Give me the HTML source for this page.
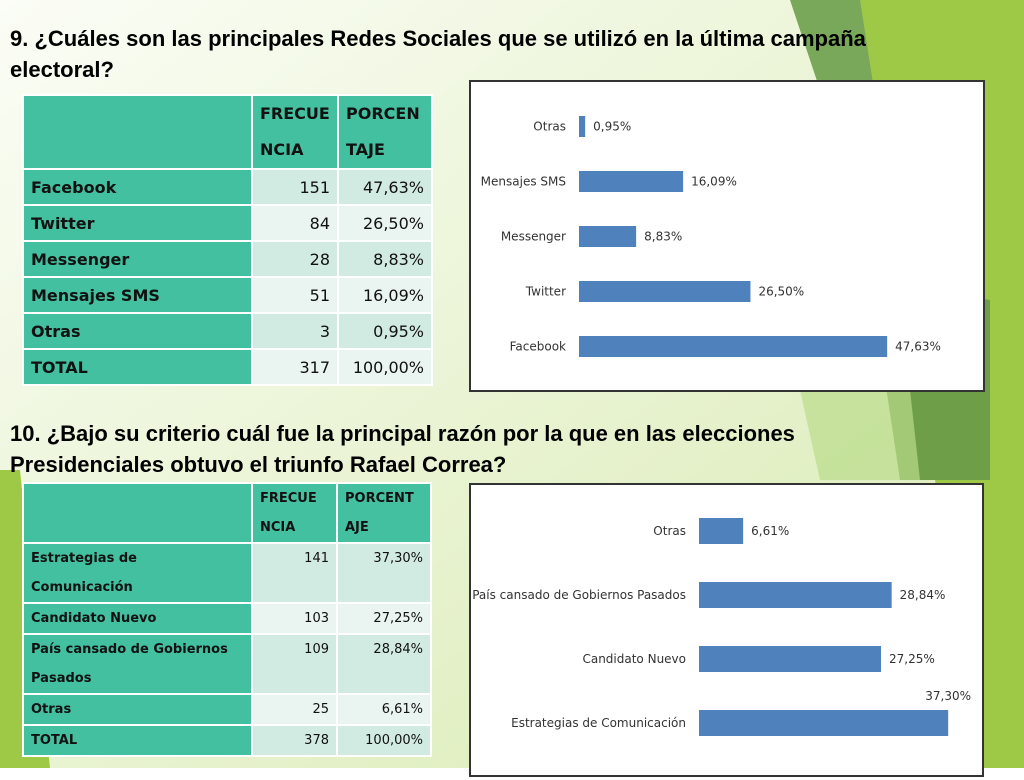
<!DOCTYPE html>
<html><head><meta charset="utf-8">
<style>
body{margin:0;width:1024px;height:768px;overflow:hidden;font-family:"Liberation Sans",sans-serif;}
#bg{position:absolute;left:0;top:0}
.t{position:absolute;left:10px;font-weight:bold;color:#000;font-family:"Liberation Sans",sans-serif;white-space:nowrap}
table{position:absolute;border-collapse:separate;border-spacing:2px;font-family:"DejaVu Sans",sans-serif;background:#fff;}
td{padding:0 7px;color:#111;}
td.h{background:#43c0a0;font-weight:bold}
td.l{background:#43c0a0;font-weight:bold}
td.a{background:#d2ebe2;text-align:right}
td.b{background:#eaf4f0;text-align:right}
.box{position:absolute;background:#fff;border:2px solid #333;}
</style></head><body>
<svg id="bg" width="1024" height="768">
<defs><linearGradient id="g" x1="0" y1="0" x2="1" y2="1"><stop offset="0" stop-color="#fbfdf6"/><stop offset="1" stop-color="#d8eab0"/></linearGradient></defs>
<rect width="1024" height="768" fill="url(#g)"/>
<polygon points="790,0 1024,0 1024,330 900,330" fill="#7aa85a"/>
<polygon points="860,0 1024,0 1024,768 980,768" fill="#9dc946"/>
<polygon points="870,280 990,300 990,480 900,480" fill="#6e9e48"/>
<polygon points="780,300 900,300 920,480 820,480" fill="#b9dc8a" opacity="0.7"/>
<polygon points="0,470 20,470 50,768 0,768" fill="#9dc946"/>
</svg>
<div class="t" style="top:23px;font-size:22px;line-height:31px">9. ¿Cuáles son las principales Redes Sociales que se utilizó en la última campaña<br>electoral?</div>
<table style="left:22px;top:94px;font-size:16px">
<tr style="height:70px"><td class="h" style="width:213px"></td><td class="h" style="width:70px;line-height:36px">FRECUE<br>NCIA</td><td class="h" style="width:78px;line-height:36px">PORCEN<br>TAJE</td></tr>
<tr style="height:34px"><td class="l">Facebook</td><td class="a">151</td><td class="a">47,63%</td></tr>
<tr style="height:34px"><td class="l">Twitter</td><td class="b">84</td><td class="b">26,50%</td></tr>
<tr style="height:34px"><td class="l">Messenger</td><td class="a">28</td><td class="a">8,83%</td></tr>
<tr style="height:34px"><td class="l">Mensajes SMS</td><td class="b">51</td><td class="b">16,09%</td></tr>
<tr style="height:34px"><td class="l">Otras</td><td class="a">3</td><td class="a">0,95%</td></tr>
<tr style="height:34px"><td class="l">TOTAL</td><td class="b">317</td><td class="b">100,00%</td></tr>
</table>
<div class="box" style="left:469px;top:80px;width:512px;height:308px"><svg id="c1" width="512" height="308"></svg></div>
<div class="t" style="top:418px;font-size:22px;line-height:31px">10. ¿Bajo su criterio cuál fue la principal razón por la que en las elecciones<br>Presidenciales obtuvo el triunfo Rafael Correa?</div>
<table style="left:22px;top:482px;font-size:13px;line-height:29px">
<tr style="height:58px"><td class="h" style="width:213px"></td><td class="h" style="width:69px">FRECUE<br>NCIA</td><td class="h" style="width:78px">PORCENT<br>AJE</td></tr>
<tr><td class="l">Estrategias de<br>Comunicación</td><td class="a" style="vertical-align:top">141</td><td class="a" style="vertical-align:top">37,30%</td></tr>
<tr><td class="l">Candidato Nuevo</td><td class="b">103</td><td class="b">27,25%</td></tr>
<tr><td class="l">País cansado de Gobiernos<br>Pasados</td><td class="a" style="vertical-align:top">109</td><td class="a" style="vertical-align:top">28,84%</td></tr>
<tr><td class="l">Otras</td><td class="b">25</td><td class="b">6,61%</td></tr>
<tr><td class="l">TOTAL</td><td class="a">378</td><td class="a">100,00%</td></tr>
</table>
<div class="box" style="left:469px;top:483px;width:511px;height:290px"><svg id="c2" width="511" height="290"></svg></div>
<script>
const cats1=["Facebook","Twitter","Messenger","Mensajes SMS","Otras"];
const vals1=[47.63,26.50,8.83,16.09,0.95];
const labels1=["47,63%","26,50%","8,83%","16,09%","0,95%"];
const cats2=["Estrategias de Comunicación","Candidato Nuevo","País cansado de Gobiernos Pasados","Otras"];
const vals2=[37.30,27.25,28.84,6.61];
const labels2=["37,30%","27,25%","28,84%","6,61%"];
const NS="http://www.w3.org/2000/svg";
function draw(id,cats,vals,labels,x0,scale,yFirst,step,bh,above){
  const svg=document.getElementById(id);
  cats.forEach((c,i)=>{
    const y=yFirst-i*step, w=vals[i]*scale;
    const r=document.createElementNS(NS,"rect");
    
    
    r.setAttribute("x",x0);r.setAttribute("y",y);r.setAttribute("width",w);r.setAttribute("height",bh);r.setAttribute("fill","#4f81bd");
    svg.appendChild(r);
    const t=document.createElementNS(NS,"text");
    
    
    t.setAttribute("x",x0-13);t.setAttribute("y",y+bh/2+4);t.setAttribute("text-anchor","end");
    t.setAttribute("font-size","12");t.setAttribute("font-family","DejaVu Sans, sans-serif");t.setAttribute("fill","#333");
    t.textContent=c;svg.appendChild(t);
    const v=document.createElementNS(NS,"text");
    
    
    const ab=above&&i===0;
    v.setAttribute("x",ab?x0+w:x0+w+8);v.setAttribute("y",ab?y-10:y+bh/2+4);
    v.setAttribute("text-anchor",ab?"middle":"start");
    v.setAttribute("font-size","12");v.setAttribute("font-family","DejaVu Sans, sans-serif");v.setAttribute("fill","#333");
    v.textContent=labels[i];svg.appendChild(v);
  });
}
draw("c1",cats1,vals1,labels1,108,6.47,254,55,21,false);
draw("c2",cats2,vals2,labels2,228,6.68,225,64,26,true);
</script>
</body></html>
